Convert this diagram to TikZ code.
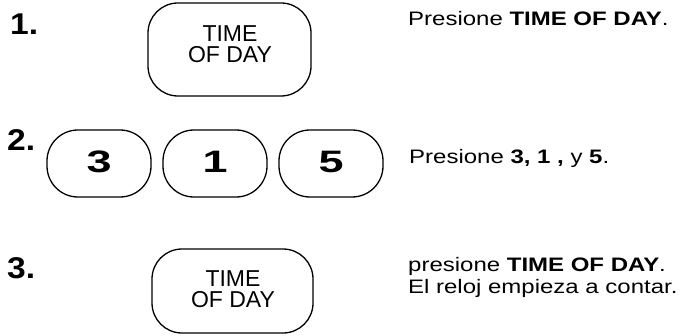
\documentclass[tikz,border=0pt]{standalone}
\usepackage{fontspec}
\setmainfont{Liberation Sans}
\newfontfamily\bodyfont[FakeStretch=1.23]{Liberation Sans}
\newfontfamily\digfont[FakeStretch=1.45]{Liberation Sans}
\newfontfamily\labfont[FakeStretch=1.12]{Liberation Sans}
\begin{document}
\begin{tikzpicture}[x=1pt,y=1pt,
  keybox/.style={draw=black, line width=1.3pt, rounded corners=30pt, inner sep=0pt},
  keytext/.style={inner sep=0pt, align=center, font=\fontsize{23}{21.5}\selectfont},
  numkey/.style={draw=black, line width=1.3pt, rounded corners=31pt, minimum width=104pt,
     minimum height=67pt, inner sep=0pt, font=\digfont\bfseries\fontsize{31}{31}\selectfont,
     text height=22pt, text depth=5pt},
  steplabel/.style={anchor=base west, inner sep=0pt, font=\labfont\bfseries\fontsize{30}{30}\selectfont},
  desc/.style={anchor=base west, inner sep=0pt, font=\bodyfont\fontsize{19.5}{22}\selectfont}]
\useasboundingbox (0,0) rectangle (692,335);

% step labels
\node[steplabel] (l1) at (10,300) {1.};
\node[steplabel] (l2) at (7,185) {2.};
\node[steplabel] (l3) at (7,57) {3.};

% step 1
\node[keybox, minimum width=163pt, minimum height=93pt] (k1) at (229.5,285.5) {};
\node[keytext] (k1t) at (230,291) {TIME\\OF DAY};
\node[desc] (d1) at (408,309) {Presione \textbf{TIME OF DAY}.};

% step 2
\node[numkey] (n3) at (99,171.5) {3};
\node[numkey] (n1) at (215,171.5) {1};
\node[numkey] (n5) at (331,171.5) {5};
\node[desc] (d2) at (409,172) {Presione \textbf{3, 1 ,} y \textbf{5}.};

% step 3
\node[keybox, minimum width=161pt, minimum height=84pt] (k3) at (232.5,44) {};
\node[keytext] (k3t) at (233,46) {TIME\\OF DAY};
\node[desc] (d3a) at (408,64) {presione \textbf{TIME OF DAY}.};
\node[desc] (d3b) at (408,42) {El reloj empieza a contar.};
\end{tikzpicture}
\end{document}
